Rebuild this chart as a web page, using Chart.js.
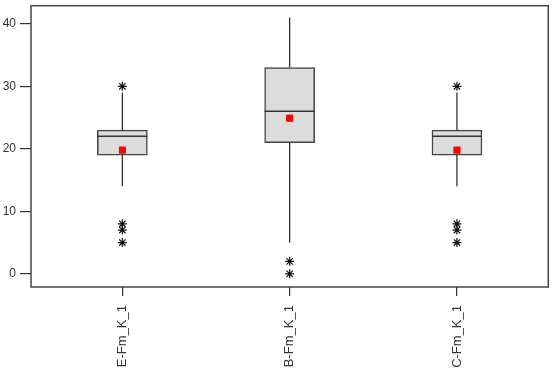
<!DOCTYPE html>
<html>
<head>
<meta charset="utf-8">
<script src="https://cdn.jsdelivr.net/npm/chart.js@4/dist/chart.umd.min.js"></script>
<style>
  html, body { margin: 0; padding: 0; background: #fff; }
  #wrap { width: 554px; height: 369px; }
</style>
</head>
<body>
<div id="wrap"><canvas id="boxChart"></canvas></div>
<script>
// datos
const categories = ['E-Fm_K_1', 'B-Fm_K_1', 'C-Fm_K_1'];
const positions = [1, 2, 3];
const q1Values = [19, 21, 19];
const q3Values = [23, 33, 23];
const medianValues = [22, 26, 22];
const meanValues = [19.8, 24.9, 19.8];
const whiskerLow = [14, 5, 14];
const whiskerHigh = [29, 41, 29];
const outliers = [[30, 8, 7, 5], [2, 0], [30, 8, 7, 5]];
const yTicks = [0, 10, 20, 30, 40];

const boxData = positions.map((p, i) => ({x: p, y: [q1Values[i], q3Values[i]]}));
const meanData = positions.map((p, i) => ({x: p, y: meanValues[i]}));
const outlierData = [];
outliers.forEach((list, i) => list.forEach(v => outlierData.push({x: positions[i], y: v})));

// bigotes, mediana y marco
const boxExtras = {
    id: 'boxExtras',
    beforeDatasetsDraw(chart) {
        const ctx = chart.ctx;
        const y = chart.scales.y;
        const bars = chart.getDatasetMeta(0).data;
        ctx.save();
        ctx.strokeStyle = '#222';
        ctx.lineWidth = 1.2;
        bars.forEach((bar, i) => {
            ctx.beginPath();
            ctx.moveTo(bar.x, y.getPixelForValue(q3Values[i]));
            ctx.lineTo(bar.x, y.getPixelForValue(whiskerHigh[i]));
            ctx.moveTo(bar.x, y.getPixelForValue(q1Values[i]));
            ctx.lineTo(bar.x, y.getPixelForValue(whiskerLow[i]));
            ctx.stroke();
        });
        ctx.restore();
    },
    afterDatasetsDraw(chart) {
        const ctx = chart.ctx;
        const y = chart.scales.y;
        const bars = chart.getDatasetMeta(0).data;
        ctx.save();
        ctx.strokeStyle = '#333';
        ctx.lineWidth = 1.5;
        bars.forEach((bar, i) => {
            const my = y.getPixelForValue(medianValues[i]);
            ctx.beginPath();
            ctx.moveTo(bar.x - bar.width / 2, my);
            ctx.lineTo(bar.x + bar.width / 2, my);
            ctx.stroke();
        });
        // redibujar la media por encima de la mediana
        chart.getDatasetMeta(1).data.forEach(pt => pt.draw(ctx, chart.chartArea));
        const a = chart.chartArea;
        ctx.strokeStyle = '#444';
        ctx.lineWidth = 1.5;
        ctx.strokeRect(a.left, a.top, a.right - a.left, a.bottom - a.top);
        ctx.restore();
    }
};

new Chart('boxChart', {
    type: 'bar',
    data: {
        datasets: [{
            type: 'bar',
            data: boxData,
            backgroundColor: '#dcdcdc',
            borderColor: '#444',
            borderWidth: 1.5,
            borderSkipped: false,
            barThickness: 50,
            order: 3
        }, {
            type: 'scatter',
            data: meanData,
            pointStyle: 'rect',
            pointRadius: 4.8,
            backgroundColor: '#ff0000',
            borderColor: '#ff0000',
            borderWidth: 0,
            order: 1
        }, {
            type: 'scatter',
            data: outlierData,
            pointStyle: 'star',
            pointRadius: 4.5,
            borderColor: '#111',
            borderWidth: 1.2,
            order: 2
        }]
    },
    options: {
        responsive: true,
        maintainAspectRatio: false,
        animation: false,
        layout: { padding: { top: 1, right: 2, left: 0, bottom: 0 } },
        plugins: {
            legend: { display: false },
            tooltip: { enabled: false }
        },
        scales: {
            x: {
                type: 'linear',
                offset: false,
                min: 0.454,
                max: 3.546,
                afterBuildTicks: s => { s.ticks = positions.map(v => ({value: v})); },
                afterFit: s => { s.height = 82; s.paddingLeft = 0; s.paddingRight = 0; },
                border: { display: false },
                grid: { offset: false, drawOnChartArea: false, drawTicks: true, tickLength: 9, color: '#333', lineWidth: 1.2 },
                ticks: {
                    minRotation: 90,
                    maxRotation: 90,
                    padding: 9,
                    color: '#333',
                    font: { family: 'Arial, "Liberation Sans", sans-serif', size: 13 },
                    callback: v => categories[positions.indexOf(v)]
                }
            },
            y: {
                min: -2.1,
                max: 42.9,
                afterBuildTicks: s => { s.ticks = yTicks.map(v => ({value: v})); },
                afterFit: s => { s.width = 31; s.paddingTop = 0; s.paddingBottom = 0; },
                border: { display: false },
                grid: { drawOnChartArea: false, drawTicks: true, tickLength: 11, color: '#333', lineWidth: 1.2 },
                ticks: {
                    padding: 4,
                    color: '#333',
                    font: { family: 'Arial, "Liberation Sans", sans-serif', size: 12 }
                }
            }
        }
    },
    plugins: [boxExtras]
});
</script>
</body>
</html>
